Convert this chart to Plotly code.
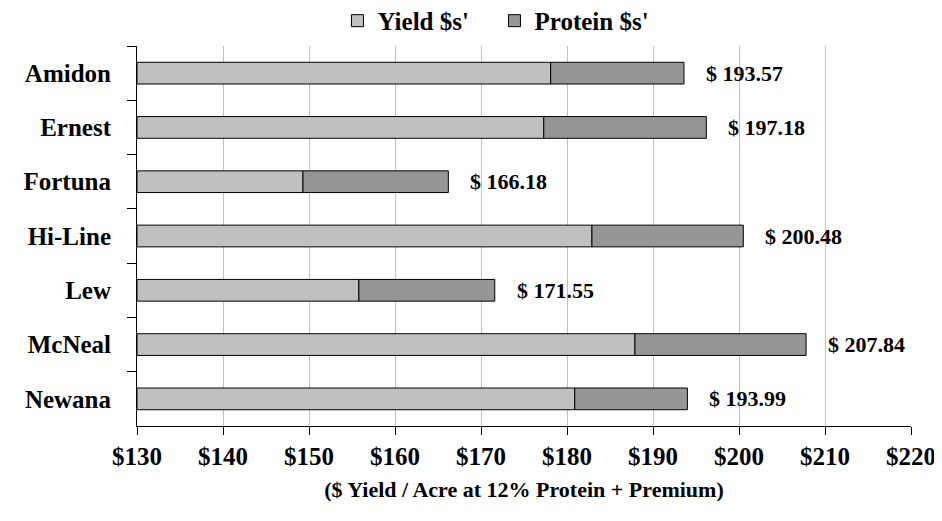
import plotly.graph_objects as go

varieties = ["Amidon", "Ernest", "Fortuna", "Hi-Line", "Lew", "McNeal", "Newana"]
yield_dollars = [178.1, 177.3, 149.3, 182.9, 155.8, 187.9, 180.9]
protein_dollars = [15.5, 18.9, 16.9, 17.6, 15.8, 19.9, 13.1]
total_labels = ["$ 193.57", "$ 197.18", "$ 166.18", "$ 200.48", "$ 171.55", "$ 207.84", "$ 193.99"]
x_ticks = [130, 140, 150, 160, 170, 180, 190, 200, 210, 220]
x_tick_labels = ["$130", "$140", "$150", "$160", "$170", "$180", "$190", "$200", "$210", "$220"]

BASE = 130
FONT = "Liberation Serif"

fig = go.Figure()
fig.add_trace(go.Bar(
    y=varieties, x=[v - BASE for v in yield_dollars], base=BASE, orientation="h",
    name="Yield $s'", marker=dict(color="#c0c0c0", line=dict(color="black", width=1)),
    width=0.4,
))
fig.add_trace(go.Bar(
    y=varieties, x=protein_dollars, base=yield_dollars, orientation="h",
    name="Protein $s'", marker=dict(color="#969696", line=dict(color="black", width=1)),
    width=0.4,
))

for v, y_, p, lab in zip(varieties, yield_dollars, protein_dollars, total_labels):
    fig.add_annotation(x=y_ + p, y=v, text=lab, showarrow=False, xanchor="left",
                       xshift=20, font=dict(family=FONT, size=22, color="black", weight="bold"))

fig.update_layout(
    width=934, height=505,
    margin=dict(l=129, r=31, t=38, b=87, autoexpand=False),
    paper_bgcolor="white", plot_bgcolor="white",
    barmode="overlay",
    showlegend=True,
    legend=dict(orientation="h", x=0.259, xanchor="left", y=1.066, yanchor="middle",
                font=dict(family=FONT, size=25, color="black", weight="bold"),
                entrywidth=112, entrywidthmode="pixels",
                tracegroupgap=0, bgcolor="rgba(0,0,0,0)"),
    font=dict(family=FONT, color="black"),
)
fig.update_xaxes(
    range=[130, 220], tickvals=x_ticks, ticktext=x_tick_labels,
    showgrid=True, gridcolor="#c0c0c0", gridwidth=1,
    showline=True, linecolor="black", linewidth=1,
    ticks="outside", ticklen=8, tickcolor="black",
    ticklabeloverflow="allow",
    tickfont=dict(family=FONT, size=25, color="black", weight="bold"),
    title=dict(text="($ Yield / Acre at 12% Protein + Premium)",
               font=dict(family=FONT, size=22, color="black", weight="bold"), standoff=12),
    zeroline=False,
)
fig.update_yaxes(
    categoryorder="array", categoryarray=varieties, autorange="reversed",
    showline=True, linecolor="black", linewidth=1,
    ticks="outside", ticklen=9, tickcolor="black", tickson="boundaries",
    ticklabelstandoff=20,
    showgrid=False,
    tickfont=dict(family=FONT, size=25, color="black", weight="bold"),
)

fig.write_html("out.html")
